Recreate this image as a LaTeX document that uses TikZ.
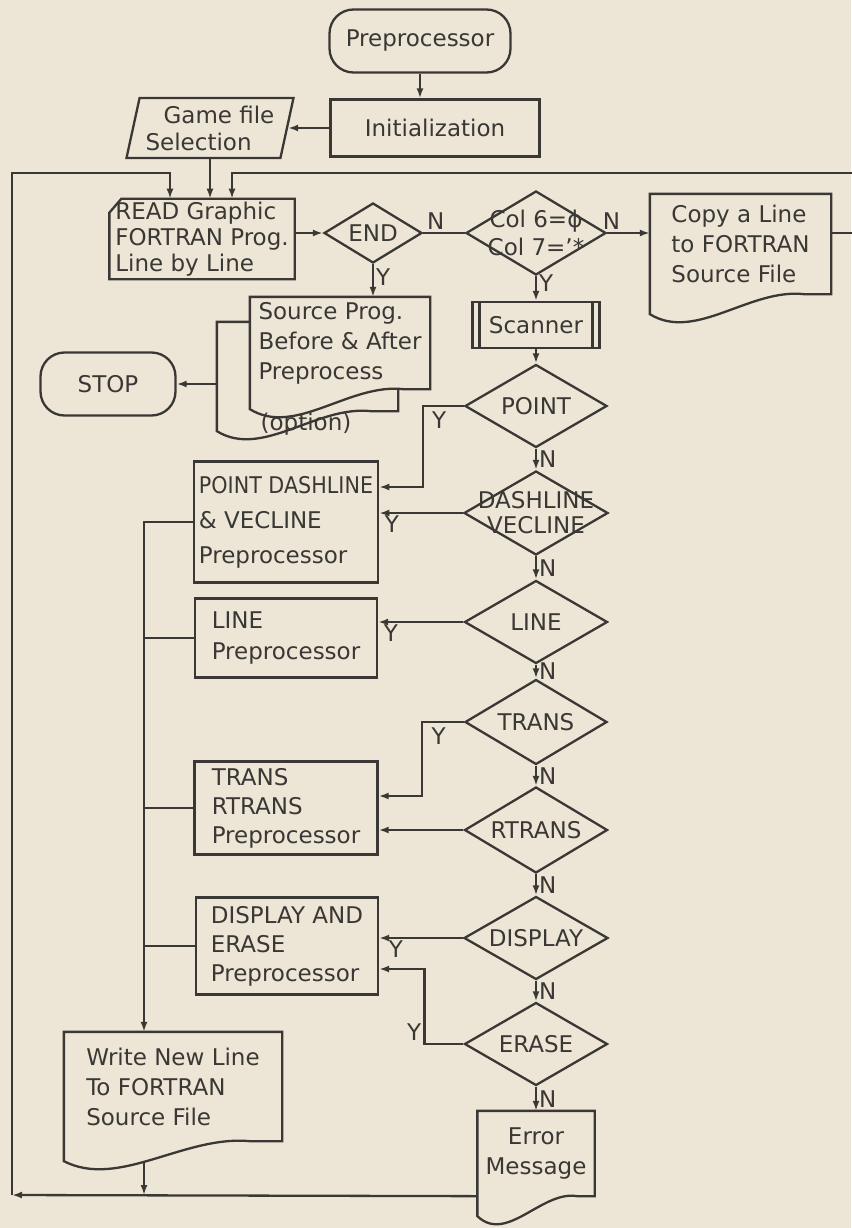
\documentclass[tikz,border=0pt]{standalone}
\usepackage{fontspec}
\setmainfont{DejaVu Sans}
\usepackage{graphicx}
\usepackage{tikz}
\usetikzlibrary{arrows.meta,positioning,shapes.geometric,calc}
\definecolor{paperbg}{RGB}{237,230,215}
\definecolor{ink}{RGB}{58,56,52}

% document symbol: node box plus wavy bottom edge
\newcommand{\docoutline}[2][]{%
  \draw[#1] (#2.south east) -- (#2.north east) -- (#2.north west) -- ([yshift=-20pt]#2.south west)
    .. controls ($(#2.south west)!0.25!(#2.south east)+(0,48)$) and ($(#2.south west)!0.55!(#2.south east)+(0,-6)$)
    .. ($(#2.south west)!0.85!(#2.south east)$) -- cycle;}

\begin{document}
\begin{tikzpicture}[x=1pt, y=-1pt, >={Latex[length=10pt, width=7pt]}, line width=2.3pt, color=ink,
  font=\fontsize{23}{29}\selectfont,
  term/.style={draw, rectangle, rounded corners=24pt, minimum height=63pt},
  proc/.style={draw, rectangle, align=left, inner sep=5pt},
  card/.style={rectangle, align=left, inner sep=2pt, font=\fontsize{23}{26}\selectfont},
  io/.style={draw, trapezium, trapezium left angle=75, trapezium right angle=105, trapezium stretches body,
    align=left, inner sep=2pt, font=\fontsize{23}{27}\selectfont},
  decision/.style={draw, diamond, inner sep=0pt},
  qtext/.style={align=center, inner sep=0pt, font=\fontsize{23}{27}\selectfont},
  doc/.style={rectangle, align=left, inner sep=4pt, font=\fontsize{23}{30}\selectfont},
  scanbox/.style={draw, rectangle, minimum width=127pt, minimum height=46pt,
    path picture={\draw ([xshift=7pt]path picture bounding box.north west) -- ([xshift=7pt]path picture bounding box.south west)
      ([xshift=-7pt]path picture bounding box.north east) -- ([xshift=-7pt]path picture bounding box.south east);}},
  lab/.style={inner sep=2pt}]
\useasboundingbox (0,0) rectangle (851,1228);
\fill[paperbg] (0,0) rectangle (851,1228);

% top part
\node[term, minimum width=181pt] (pre) at (420,41) {Preprocessor};
\node[proc, minimum width=209pt, minimum height=57pt, align=center] (init) at (435,128) {Initialization};
\node[io, minimum width=167pt, minimum height=60pt] (game) at (210,128) {\hspace*{18pt}Game file\\Selection};
\node[card, minimum width=183pt, minimum height=78pt] (read) at (202,239) {READ Graphic\\FORTRAN Prog.\\Line by Line};
\draw (read.north east) -- (read.south east) -- (read.south west) -- ([yshift=-14pt]read.north west)
  -- ([xshift=12pt]read.north west) -- cycle;
\node[decision, minimum width=98pt, minimum height=60pt, label={[qtext]center:END}] (endq) at (373,233) {};
\node[decision, minimum width=140pt, minimum height=84pt,
  label={[qtext, font=\fontsize{23}{28}\selectfont]center:{Col 6=ϕ\\Col 7='*}}] (colq) at (536,233) {};
\node[doc, minimum width=179pt, minimum height=98pt] (copy) at (740.5,244) {Copy a Line\\to FORTRAN\\Source File};
\docoutline{copy}

% listing output (two sheets) and stop
\node[doc, minimum width=179pt, minimum height=87pt] (srcback) at (307.5,366.5) {};
\docoutline{srcback}
\node[doc, fill=paperbg, minimum width=178pt, minimum height=90pt] (src) at (340,343) {Source Prog.\\Before \& After\\Preprocess};
\docoutline{src}
\node (opt) at (306,424) {(option)};
\node[term, minimum width=135pt] (stop) at (108,384) {STOP};

% scanner and keyword tests
\node[scanbox] (scan) at (536,325) {Scanner};
\node[decision, minimum width=142pt, minimum height=83pt, label={[qtext]center:POINT}] (pointq) at (536,406) {};
\node[decision, minimum width=144pt, minimum height=84pt,
  label={[qtext, font=\fontsize{23}{25}\selectfont]center:{DASHLINE\\VECLINE}}] (dashq) at (536,513) {};
\node[decision, minimum width=143pt, minimum height=83pt, label={[qtext]center:LINE}] (lineq) at (536,622) {};
\node[decision, minimum width=142pt, minimum height=85pt, label={[qtext]center:TRANS}] (transq) at (536,722) {};
\node[decision, minimum width=143pt, minimum height=86pt, label={[qtext]center:RTRANS}] (rtransq) at (536,830) {};
\node[decision, minimum width=144pt, minimum height=83pt, label={[qtext]center:DISPLAY}] (dispq) at (536,938) {};
\node[decision, minimum width=143pt, minimum height=83pt, label={[qtext]center:ERASE}] (eraseq) at (536,1044) {};
\node[doc, minimum width=115pt, minimum height=83pt, align=center] (err) at (536,1153.5) {Error\\Message};
\docoutline{err}

% preprocessors
\node[proc, minimum width=184pt, minimum height=121pt, font=\fontsize{23}{35}\selectfont] (dashbox) at (286,522)
  {\scalebox{0.9}[1]{POINT DASHLINE}\\\& VECLINE\\Preprocessor};
\node[proc, minimum width=182pt, minimum height=79pt, font=\fontsize{23}{31}\selectfont] (linebox) at (286,638) {LINE\\Preprocessor};
\node[proc, minimum width=183pt, minimum height=93pt] (transbox) at (286,808) {TRANS\\RTRANS\\Preprocessor};
\node[proc, minimum width=182pt, minimum height=97pt] (dispbox) at (287,946) {DISPLAY AND\\ERASE\\Preprocessor};
\node[doc, minimum width=216pt, minimum height=107pt] (write) at (173,1086.5) {Write New Line\\To FORTRAN\\Source File};
\docoutline{write}

\coordinate (rtop) at (856,173);
\coordinate (ltop) at (12,173);
\coordinate (lbot) at (12,1195);
\coordinate (bus) at (144,522);
\coordinate (wout) at (144,1161);

% connectors
\draw[->] (pre.south) -- (pre.south |- init.north);
\draw[->] (init.west) -- (init.west -| game.east);
\draw[->] (game.south) -- (game.south |- read.north);
\draw[->] (endq.west -| read.east) -- (endq.west);
\draw (endq.east) -- node[lab, above, pos=0.3] {N} (colq.west);
\draw[->] (colq.east) -- node[lab, above, pos=0.1] {N} (colq.east -| copy.west);
\draw[->] (colq.east -| copy.east) -| (rtop) -| ([xshift=30pt]read.north);
\draw[->] (endq.south) -- node[lab, right, pos=0.4] {Y} (endq.south |- src.north);
\draw[->] (colq.south) -- node[lab, right, pos=0.3] {Y} (scan.north);
\draw[->] (srcback.west |- stop.east) -- (stop.east);
\draw[->] (scan.south) -- (pointq.north);
\draw[->] (pointq.west) -- node[lab, below=3pt, pos=0.6] {Y} ++(-41,0) |- ([yshift=35pt]dashbox.east);
\draw[->] (pointq.south) -- node[lab, right] {N} (dashq.north);
\draw[->] (dashq.west) -- node[lab, below, pos=0.85] {Y} (dashq.west -| dashbox.east);
\draw[->] (dashq.south) -- node[lab, right] {N} (lineq.north);
\draw[->] (lineq.west) -- node[lab, below, pos=0.85] {Y} (lineq.west -| linebox.east);
\draw[->] (lineq.south) -- node[lab, right] {N} (transq.north);
\draw[->] (transq.west) -- node[lab, below=3pt, pos=0.6] {Y} ++(-42,0) |- ([yshift=12pt]transbox.east);
\draw[->] (transq.south) -- node[lab, right] {N} (rtransq.north);
\draw[->] (rtransq.west) -- (rtransq.west -| transbox.east);
\draw[->] (rtransq.south) -- node[lab, right] {N} (dispq.north);
\draw[->] (dispq.west) -- node[lab, below, pos=0.8] {Y} (dispq.west -| dispbox.east);
\draw[->] (dispq.south) -- node[lab, right] {N} (eraseq.north);
\draw[->] (eraseq.west) -- ++(-39,0) node[lab, above left] {Y} |- ([yshift=-23pt]dispbox.east);
\draw[->] (eraseq.south) -- node[lab, right] {N} (err.north);

% collector to the output file and back to the read
\draw[->] (dashbox.west) -- (dashbox.west -| bus) -- (bus |- write.north);
\draw (linebox.west) -- (linebox.west -| bus);
\draw (transbox.west) -- (transbox.west -| bus);
\draw (dispbox.west) -- (dispbox.west -| bus);
\draw[->] (wout) -- (wout |- lbot);
\draw[->] (err.south west) -- (lbot);
\draw[->] (lbot) -- (ltop) -| ([xshift=-32pt]read.north);
\end{tikzpicture}
\end{document}
